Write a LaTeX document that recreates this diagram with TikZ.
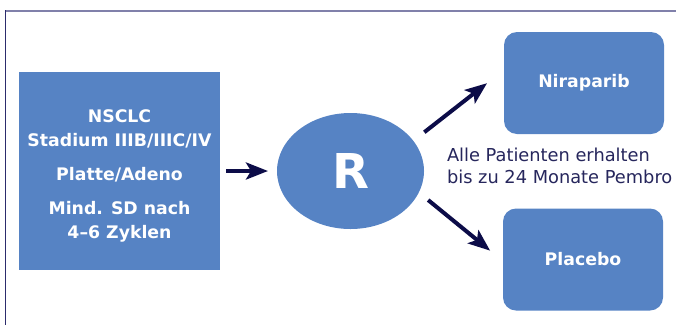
\documentclass[tikz,border=0pt]{standalone}
\usepackage{fontspec}
\setmainfont{DejaVu Sans}
\usetikzlibrary{arrows.meta,shapes.geometric}

\definecolor{boxblue}{RGB}{86,131,196}
\definecolor{arrownavy}{RGB}{12,12,72}
\definecolor{textnavy}{RGB}{38,38,92}
\definecolor{framegrey}{RGB}{128,128,170}
\definecolor{framenavy}{RGB}{44,44,108}

\begin{document}
\begin{tikzpicture}[x=1pt,y=-1pt,->,>={Stealth[length=22pt,width=17pt,inset=5pt]},line width=4pt,arrownavy]
  \tikzstyle{box}=[fill=boxblue,text=white,align=center,inner sep=0pt,font=\bfseries\fontsize{17.3}{24}\selectfont]
  \tikzstyle{arm}=[box,rounded corners=13pt,minimum width=160pt,minimum height=102pt]

  \useasboundingbox (0,0) rectangle (676,325);
  \draw[-,line width=1.8pt,framegrey] (676,11) -- (5,11);
  \draw[-,line width=1.5pt,framenavy] (5.5,10) -- (5.5,325);

  \node[box,minimum width=201pt,minimum height=198pt] (E) at (119.5,171)
       {\rule{0pt}{22pt}NSCLC\\Stadium IIIB/IIIC/IV\\[10pt]Platte/Adeno\\[10pt]Mind. SD nach\\4–6 Zyklen};
  \node[box,ellipse,minimum width=147pt,minimum height=116pt,font=\bfseries\fontsize{48}{50}\selectfont] (R) at (350.5,171) {R};
  \node[arm] (N) at (584,83)    {Niraparib};
  \node[arm] (P) at (583,259.5) {Placebo};
  \node[anchor=west,align=left,inner sep=0pt,text=textnavy,font=\fontsize{17.8}{22}\selectfont] (T) at (445,166)
       {Alle Patienten erhalten\\bis zu 24 Monate Pembro};

  \path (E)     edge[shorten <=4pt,shorten >=7pt]   (R)
        (R.26)  edge[shorten <=12pt,shorten >=19pt] (N.172)
        (R.-18) edge[shorten <=10pt,shorten >=14pt] (P.west);
\end{tikzpicture}
\end{document}
